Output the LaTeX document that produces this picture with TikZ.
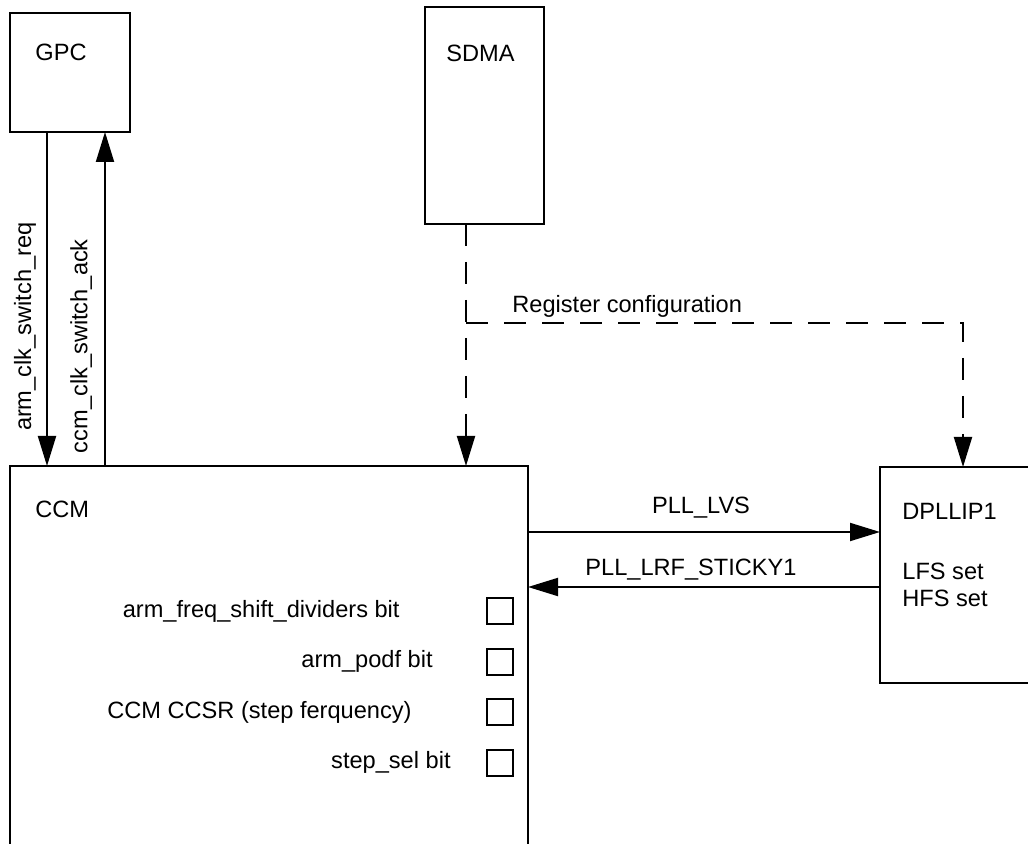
\documentclass[tikz,border=0pt]{standalone}
\usepackage{fontspec}
\setmainfont{Liberation Sans}
\usetikzlibrary{positioning,arrows.meta}

\begin{document}
\begin{tikzpicture}[
 x=0.5pt, y=-0.5pt,
 font=\fontsize{11.8pt}{14pt}\selectfont,
 node distance=12.25pt,
 block/.style={rectangle, draw, line width=1pt, anchor=north west, inner sep=0pt, outer sep=0pt},
 bit/.style={rectangle, draw, line width=1pt, minimum size=13pt, inner sep=0pt, outer sep=0pt},
 lbl/.style={inner sep=0pt},
 arrow/.style={-{Triangle[length=15pt, width=9pt]}, line width=1pt},
 dashline/.style={dash pattern=on 11pt off 8pt}
 ]
 \path[use as bounding box, clip] (0,0) rectangle (1028,844);
 % Blocks
 \node[block, minimum width=60pt, minimum height=59.5pt] (gpc) at (10,13) {};
 \node[block, minimum width=59.5pt, minimum height=108.5pt] (sdma) at (425,7) {};
 \node[block, minimum width=259pt, minimum height=220pt] (ccm) at (10,466) {};
 \node[block, minimum width=100pt, minimum height=108pt] (dpll) at (880,467) {};
 % Block titles
 \node[lbl, below right=24pt and 12.5pt of gpc.north west, anchor=base west] (gpctxt) {GPC};
 \node[lbl, below right=27.5pt and 10.5pt of sdma.north west, anchor=base west] (sdmatxt) {SDMA};
 \node[lbl, below right=25.5pt and 12.5pt of ccm.north west, anchor=base west] (ccmtxt) {CCM};
 \node[lbl, below right=26pt and 11pt of dpll.north west, anchor=base west] (dplltxt) {DPLLIP1};
 \node[lbl, below=30pt of dplltxt.base west, anchor=base west] (lfs) {LFS set};
 \node[lbl, below=13.5pt of lfs.base west, anchor=base west] (hfs) {HFS set};
 % Register bits inside CCM
 \node[bit] (bit1) at (500,611) {};
 \node[bit, below=of bit1] (bit2) {};
 \node[bit, below=of bit2] (bit3) {};
 \node[bit, below=of bit3] (bit4) {};
 \node[lbl, left=43.5pt of bit1] (freqtxt) {arm\_freq\_shift\_dividers bit};
 \node[lbl, left=27pt of bit2] (podftxt) {arm\_podf bit};
 \node[lbl, left=37.5pt of bit3] (ccsrtxt) {CCM CCSR (step ferquency)};
 \node[lbl, left=18pt of bit4] (steptxt) {step\_sel bit};
 % Handshake with GPC
 \draw[arrow] ([xshift=18.5pt]gpc.south west) -- ([xshift=18.5pt]gpc.south west |- ccm.north)
  node[lbl, pos=1, rotate=90, anchor=south west, inner xsep=17pt, inner ysep=5pt] {arm\_clk\_switch\_req};
 \draw[arrow] ([xshift=47.5pt]gpc.south west |- ccm.north) -- ([xshift=47.5pt]gpc.south west)
  node[lbl, pos=0, rotate=90, anchor=south west, inner sep=6pt] {ccm\_clk\_switch\_ack};
 % Register configuration from SDMA (dashed)
 \coordinate (split) at (466,323);
 \draw[arrow, dashline] (split |- sdma.south) -- (split |- ccm.north);
 \draw[arrow, dashline] (split) -| ([xshift=41.5pt]dpll.north west);
 \node[lbl, above right=5pt and 23pt of split, anchor=base west] (regtxt) {Register configuration};
 % PLL signals
 \draw[arrow] ([yshift=-33pt]ccm.north east) -- ([yshift=-33pt]ccm.north east -| dpll.west)
  node[lbl, midway, anchor=base, yshift=9.5pt, xshift=-1.5pt] {PLL\_LVS};
 \draw[arrow] ([yshift=-60.5pt]ccm.north east -| dpll.west) -- ([yshift=-60.5pt]ccm.north east)
  node[lbl, midway, anchor=base, yshift=6pt, xshift=-6.5pt] {PLL\_LRF\_STICKY1};
\end{tikzpicture}
\end{document}
